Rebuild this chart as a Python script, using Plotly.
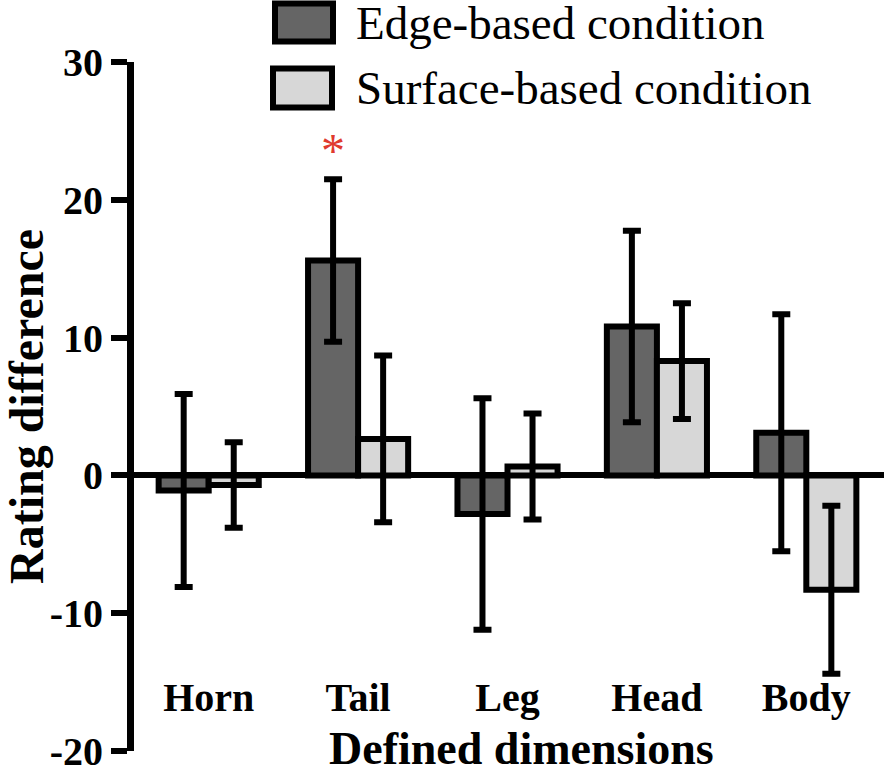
import plotly.graph_objects as go

# 数据
dimensions = ['Horn', 'Tail', 'Leg', 'Head', 'Body']
edge_mean = [-1.1, 15.6, -2.8, 10.8, 3.1]
edge_err = [7.0, 5.9, 8.4, 6.95, 8.6]
surface_mean = [-0.7, 2.65, 0.65, 8.3, -8.3]
surface_err = [3.1, 6.05, 3.85, 4.2, 6.1]
y_ticks = [-20, -10, 0, 10, 20, 30]
y_tick_text = ['-20', '-10', '0', '10', '20', '30']
legend_names = ['Edge-based condition', 'Surface-based condition']

serif = 'Liberation Serif, Times New Roman, serif'
edge_color = '#656565'
surface_color = '#d7d7d7'

fig = go.Figure()
fig.add_trace(go.Bar(
    x=dimensions, y=edge_mean, name=legend_names[0],
    marker=dict(color=edge_color, line=dict(color='black', width=6)),
    error_y=dict(type='data', array=edge_err, color='black', thickness=6, width=9),
))
fig.add_trace(go.Bar(
    x=dimensions, y=surface_mean, name=legend_names[1],
    marker=dict(color=surface_color, line=dict(color='black', width=6)),
    error_y=dict(type='data', array=surface_err, color='black', thickness=6, width=9),
))

# 图例（手动画的方框和文字），位置按像素换算成 paper 坐标
def px_x(v):
    return (v - 134) / 750

def px_y(v):
    return (751 - v) / 688.5

boxes = [(275, 333, 4, 42, edge_color), (273, 332, 69, 108, surface_color)]
for x0, x1, y0, y1, c in boxes:
    fig.add_shape(type='rect', xref='paper', yref='paper',
                  x0=px_x(x0), x1=px_x(x1), y0=px_y(y1), y1=px_y(y0),
                  fillcolor=c, line=dict(color='black', width=6))
for name, yc in zip(legend_names, [24, 88]):
    fig.add_annotation(text=name, xref='paper', yref='paper',
                       x=px_x(354), y=px_y(yc), xanchor='left', yanchor='middle',
                       showarrow=False, font=dict(family=serif, size=47, color='black'))

# 显著性标记
fig.add_annotation(text='*', x='Tail', y=23.6, xshift=-25, yanchor='middle',
                   showarrow=False, font=dict(family=serif, size=48, color='#e03a2e'))

# x轴标题
fig.add_annotation(text='<b>Defined dimensions</b>', xref='paper', yref='paper',
                   x=px_x(521), y=px_y(749), xanchor='center', yanchor='middle',
                   showarrow=False, font=dict(family=serif, size=46, color='black'))

fig.update_layout(
    width=886, height=776,
    margin=dict(l=134, r=2, t=62, b=25),
    plot_bgcolor='white', paper_bgcolor='white',
    barmode='group', bargap=0.33, bargroupgap=0,
    showlegend=False,
    font=dict(family=serif, color='black'),
)
fig.update_xaxes(
    range=[-0.5, 4.52], anchor='free', position=0.117, automargin=False,
    showline=False, showgrid=False, zeroline=False, ticks='',
    tickfont=dict(family=serif, size=40, weight='bold'),
)
fig.update_yaxes(
    range=[-20, 30], tickvals=y_ticks, ticktext=y_tick_text, automargin=False,
    showline=True, linecolor='black', linewidth=7,
    ticks='outside', ticklen=16, tickwidth=6, tickcolor='black',
    showgrid=False, zeroline=True, zerolinecolor='black', zerolinewidth=6,
    tickfont=dict(family=serif, size=40, weight='bold'),
    title=dict(text='Rating difference', standoff=30,
               font=dict(family=serif, size=48, weight='bold')),
)

# 去掉网页默认的8px边距，隐藏工具栏
fig.write_html('out.html', config={'displayModeBar': False},
               post_script="document.body.style.margin='0';")
